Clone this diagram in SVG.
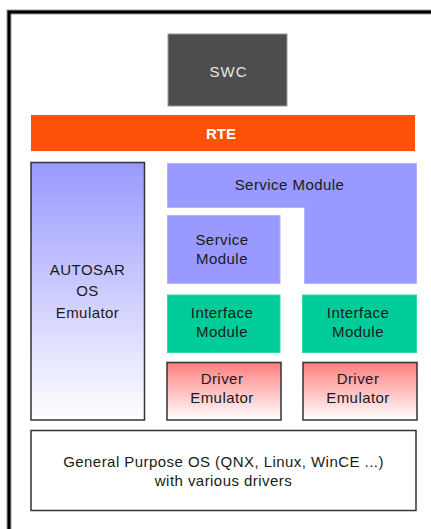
<svg xmlns="http://www.w3.org/2000/svg" width="431" height="529" viewBox="0 0 431 529">
<defs>
<linearGradient id="gBlue" x1="0" y1="0" x2="0" y2="1">
<stop offset="0" stop-color="#9999ff"/>
<stop offset="1" stop-color="#ffffff"/>
</linearGradient>
<linearGradient id="gRed" x1="0" y1="0" x2="0" y2="1">
<stop offset="0" stop-color="#ff7f7f"/>
<stop offset="1" stop-color="#ffffff"/>
</linearGradient>
<style>
text{font-family:"Liberation Sans",Arial,sans-serif;font-size:15px;letter-spacing:0.45px;fill:#1a1a1a;text-anchor:middle;dominant-baseline:central}
.svc{fill:#9999ff;stroke:#b3b3ff;stroke-width:1}
.ifc{fill:#00cc99;stroke:#33d9ad;stroke-width:1}
.drv{fill:url(#gRed);stroke:#333333;stroke-width:1.5}
</style>
</defs>
<rect x="0" y="0" width="431" height="529" fill="#ffffff"/>
<g id="frame">
<path d="M9 540 V12 H440" fill="none" stroke="#9a9a9a" stroke-width="5"/>
<path d="M9 540 V12 H440" fill="none" stroke="#000000" stroke-width="3"/>
</g>
<g id="swc">
<rect x="168" y="34" width="119" height="72" fill="#4d4d4d" stroke="#9a9a9a" stroke-width="1"/>
<text x="228.5" y="71" style="fill:#e6e6e6;letter-spacing:1px">SWC</text>
</g>
<g id="rte">
<rect x="31" y="115" width="384" height="36" fill="#ff5008"/>
<text x="221" y="133.5" style="fill:#ffffff;font-weight:bold;letter-spacing:0">RTE</text>
</g>
<g id="autosar-os">
<rect x="31" y="162.5" width="113.5" height="257.5" fill="url(#gBlue)" stroke="#333333" stroke-width="1.5"/>
<text x="87.5" y="269">AUTOSAR</text>
<text x="87.5" y="290.5">OS</text>
<text x="87.5" y="312">Emulator</text>
</g>
<g id="service-module-large">
<path class="svc" d="M167.5 163.5 H416.5 V283.5 H304.5 V207.5 H167.5 Z"/>
<text x="289.5" y="184.5">Service Module</text>
</g>
<g id="service-module-small">
<rect class="svc" x="167.5" y="215.5" width="112.5" height="68"/>
<text x="222" y="239">Service</text>
<text x="222" y="258">Module</text>
</g>
<g id="interface-module-1">
<rect class="ifc" x="167.5" y="295" width="112.5" height="57.5"/>
<text x="222" y="312.5">Interface</text>
<text x="222" y="331.5">Module</text>
</g>
<g id="interface-module-2">
<rect class="ifc" x="302.5" y="295" width="114" height="57.5"/>
<text x="358" y="312.5">Interface</text>
<text x="358" y="331.5">Module</text>
</g>
<g id="driver-emulator-1">
<rect class="drv" x="167" y="362.5" width="114" height="57.5"/>
<text x="222" y="378.5">Driver</text>
<text x="222" y="397.5">Emulator</text>
</g>
<g id="driver-emulator-2">
<rect class="drv" x="303" y="362.5" width="114" height="57.5"/>
<text x="358" y="378.5">Driver</text>
<text x="358" y="397.5">Emulator</text>
</g>
<g id="general-os">
<rect x="31" y="430.5" width="385" height="80" fill="#ffffff" stroke="#333333" stroke-width="1.5"/>
<text x="223.5" y="461">General Purpose OS (QNX, Linux, WinCE ...)</text>
<text x="223.5" y="480">with various drivers</text>
</g>
<g id="connectors"/>
</svg>
